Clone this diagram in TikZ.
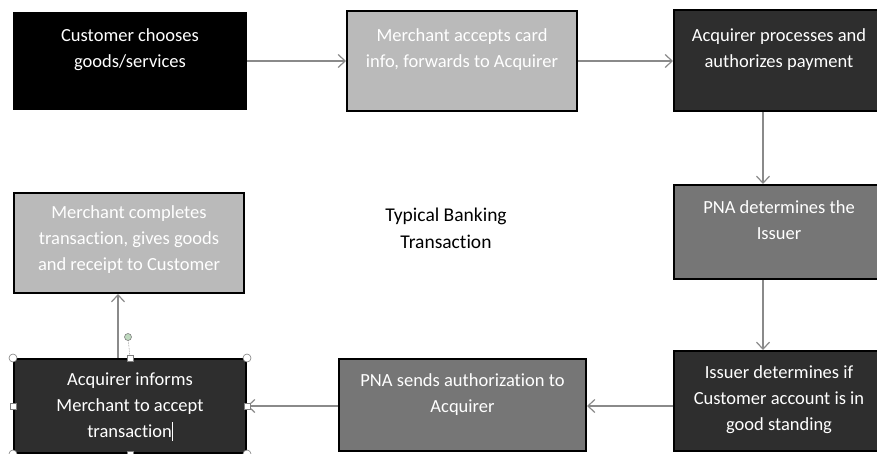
\documentclass[tikz,border=0pt]{standalone}
\usepackage{fontspec}
\setmainfont{Carlito}[Ligatures=NoCommon]
\usetikzlibrary{arrows.meta}
\definecolor{dark}{HTML}{2E2E2E}
\definecolor{mid}{HTML}{767676}
\definecolor{light}{HTML}{BABABA}
\definecolor{arr}{HTML}{8A8A8A}
\tikzset{
  stepbox/.style={draw=black, line width=2pt, anchor=north west, inner sep=0pt},
  boxtext/.style={text=white, align=center, inner sep=0pt, anchor=base,
    font=\fontsize{18.5}{26}\selectfont},
  flow/.style={draw=arr, line width=1.3pt, -{Straight Barb[length=7pt,width=13pt,line width=1.2pt]}},
  handlec/.style={circle, draw=gray, fill=white, line width=0.6pt, inner sep=0pt, minimum size=8pt},
  handles/.style={rectangle, draw=gray, fill=white, line width=0.6pt, inner sep=0pt, minimum size=6pt},
}
\begin{document}
\begin{tikzpicture}[x=1pt,y=-1pt]
\useasboundingbox (0,0) rectangle (877,453);
\clip (0,0) rectangle (877,453);
\node[stepbox, fill=black, minimum width=232pt, minimum height=96pt] (b1) at (13,12) {};
\node[stepbox, fill=light, minimum width=230pt, minimum height=100pt] (b2) at (346,10) {};
\node[stepbox, fill=dark, minimum width=210pt, minimum height=101pt] (b3) at (673,9) {};
\node[stepbox, fill=mid, minimum width=210pt, minimum height=94pt] (b4) at (673,184) {};
\node[stepbox, fill=dark, minimum width=210pt, minimum height=100pt] (b5) at (673,350) {};
\node[stepbox, fill=mid, minimum width=247pt, minimum height=92pt] (b6) at (338,358) {};
\node[stepbox, fill=dark, minimum width=232pt, minimum height=94pt] (b7) at (13,358) {};
\node[stepbox, fill=light, minimum width=230pt, minimum height=100pt] (b8) at (13,192) {};
\node[boxtext] (t1) at ([yshift=-55pt]b1.north) {Customer chooses\\goods/services};
\node[boxtext] (t2) at ([yshift=-57pt]b2.north) {Merchant accepts card\\info, forwards to Acquirer};
\node[boxtext] (t3) at ([yshift=-58pt]b3.north) {Acquirer processes and\\authorizes payment};
\node[boxtext] (t4) at ([yshift=-55pt]b4.north) {PNA determines the\\Issuer};
\node[boxtext] (t5) at ([yshift=-80pt]b5.north) {Issuer determines if\\Customer account is in\\good standing};
\node[boxtext] (t6) at ([yshift=-54pt]b6.north) {PNA sends authorization to\\Acquirer};
\node[boxtext] (t7) at ([yshift=-79pt]b7.north) {Acquirer informs\\Merchant to accept\\transaction\rule[-4pt]{0.8pt}{19pt}};
\node[boxtext] (t8) at ([yshift=-78pt]b8.north) {Merchant completes\\transaction, gives goods\\and receipt to Customer};
\node[align=center, font=\fontsize{19.5}{27}\selectfont] (title) at (446,228) {Typical Banking\\Transaction};
\coordinate (vx) at (763,0);
\coordinate (ux) at (118,0);
\draw[flow] (b1.east) -- (b2.west);
\draw[flow] (b2.east) -- (b3.west |- b2.east);
\draw[flow] (b3.south -| vx) -- (b4.north -| vx);
\draw[flow] (b4.south -| vx) -- (b5.north -| vx);
\draw[flow] (b5.west |- b7.east) -- (b6.east |- b7.east);
\draw[flow] (b6.west |- b7.east) -- (b7.east);
\draw[flow] (b7.north -| ux) -- (b8.south -| ux);
% selection handles
\coordinate (rot) at (128,337);
\draw[gray, densely dotted, line width=0.6pt] (rot) -- (b7.north);
\node[circle, draw=gray, fill=green!25!gray!40, line width=0.6pt, inner sep=0pt, minimum size=7pt] (rh) at (rot) {};
\node[handlec] (h1) at (b7.north west) {};
\node[handlec] (h2) at (b7.north east) {};
\node[handlec] (h3) at (b7.south west) {};
\node[handlec] (h4) at (b7.south east) {};
\node[handles] (h5) at (b7.north) {};
\node[handles] (h6) at (b7.west) {};
\node[handles] (h7) at (b7.east) {};
\node[handles] (h8) at (b7.south) {};
\end{tikzpicture}
\end{document}
